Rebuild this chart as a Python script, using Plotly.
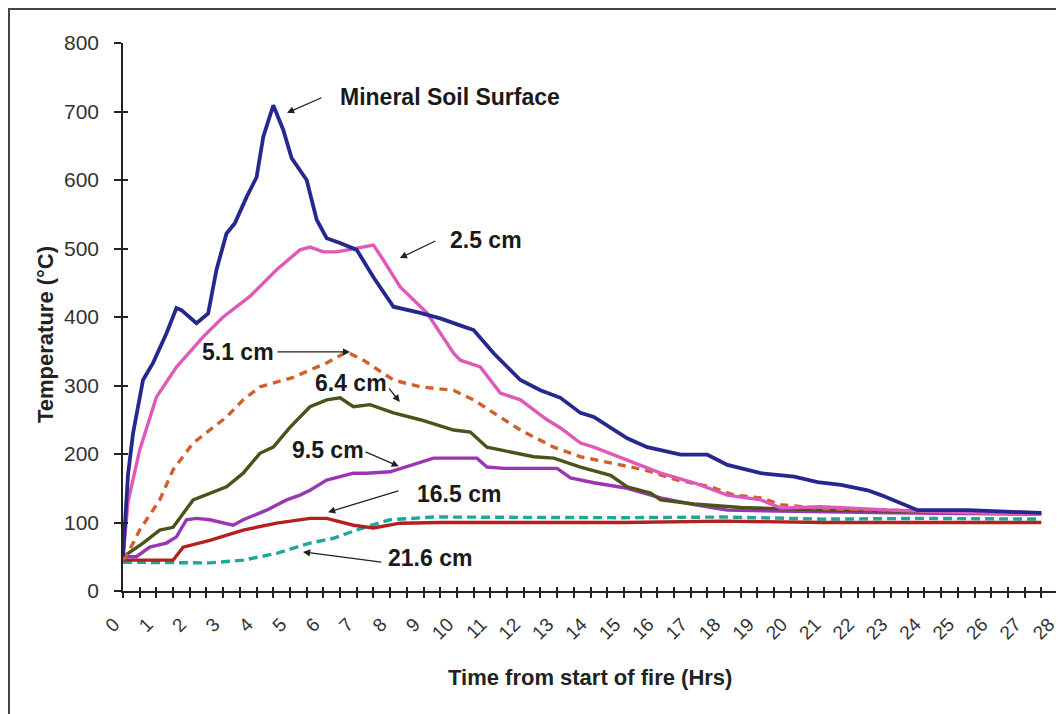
import plotly.graph_objects as go

# ---------------- data ----------------
hours = list(range(29))
hour_labels = [str(h) for h in hours]

t_surface = [0, 0.05, 0.15, 0.3, 0.6, 0.9, 1.3, 1.6, 1.75, 2.2, 2.55, 2.8, 3.1, 3.35, 3.7, 4.0, 4.2,
             4.5, 4.8, 5.05, 5.5, 5.8, 6.1, 6.5, 7.0, 7.5, 8.1, 8.9, 9.5, 10.2, 10.5, 11.1, 11.9,
             12.5, 13.1, 13.7, 14.1, 15.1, 15.7, 16.7, 17.5, 18.1, 19.1, 20.1, 20.8, 21.5, 22.3,
             22.7, 23.8, 25.3, 27.5]
T_surface = [50, 90, 170, 230, 308, 333, 376, 413, 410, 391, 405, 469, 522, 537, 575, 604, 663,
             709, 673, 632, 600, 542, 515, 508, 498, 458, 415, 406, 398, 386, 381, 347, 308,
             293, 282, 260, 254, 223, 210, 199, 199, 184, 172, 167, 159, 155, 147,
             140, 118, 118, 114]

t_25 = [0, 0.15, 0.5, 0.8, 1.0, 1.6, 2.4, 3.0, 3.8, 4.6, 5.3, 5.6, 6.0, 6.4, 7.0, 7.5, 7.8, 8.3,
        9.1, 9.9, 10.1, 10.7, 11.3, 11.9, 12.7, 13.1, 13.7, 14.1, 15.1, 16.1, 17.1, 18.1, 19.1,
        19.7, 20.9, 23.0, 25.0, 27.5]
T_25 = [50, 130, 206, 254, 283, 327, 371, 400, 430, 469, 498, 502, 495, 495, 500, 505, 483, 444,
        406, 347, 337, 327, 289, 279, 250, 238, 216, 210, 191, 172, 158, 140, 133,
        121, 123, 118, 115, 112]

t_51 = [0, 0.2, 0.5, 1.1, 1.5, 2.1, 2.6, 3.1, 3.6, 4.1, 5.1, 6.1, 6.7, 7.2, 8.1, 8.9, 9.9, 10.5,
        11.1, 11.9, 12.9, 13.7, 14.6, 15.6, 16.6, 17.6, 18.3, 19.1, 19.7, 21.0, 23.0, 25.0, 27.5]
T_51 = [45, 60, 89, 133, 177, 216, 235, 254, 279, 298, 312, 333, 349, 337, 308, 298, 293, 279,
        260, 235, 210, 196, 187, 177, 162, 152, 140, 136, 126, 120, 118, 115, 112]

t_64 = [0, 0.6, 1.1, 1.5, 2.1, 2.6, 3.1, 3.6, 4.1, 4.5, 5.0, 5.6, 6.1, 6.5, 6.9, 7.4, 8.1, 8.9,
        9.9, 10.4, 10.9, 11.3, 12.3, 12.9, 13.7, 14.6, 15.1, 15.8, 16.1, 17.1, 18.5, 21.0, 24.0, 27.5]
T_64 = [50, 70, 89, 93, 133, 143, 152, 172, 201, 210, 239, 269, 279, 282, 269, 272, 260, 250,
        235, 232, 210, 206, 196, 194, 181, 169, 152, 143, 133, 127, 122, 118, 116, 114]

t_95 = [0, 0.4, 0.8, 1.3, 1.6, 1.9, 2.2, 2.6, 3.3, 3.6, 4.3, 4.9, 5.3, 5.6, 6.1, 6.9, 7.3, 8.0,
        9.3, 10.6, 10.9, 11.4, 13.0, 13.4, 14.1, 15.1, 16.1, 17.1, 18.1, 20.0, 23.0, 27.5]
T_95 = [50, 50, 64, 70, 79, 104, 106, 104, 96, 104, 118, 133, 140, 147, 162, 172, 172, 174,
        194, 194, 181, 179, 179, 165, 158, 150, 136, 126, 118, 116, 114, 112]

t_165 = [0, 0.8, 1.5, 1.8, 2.6, 3.6, 4.6, 5.6, 6.1, 6.9, 7.5, 8.3, 9.5, 12.0, 15.0, 18.0, 21.0, 24.0, 27.5]
T_165 = [45, 45, 45, 64, 74, 89, 99, 106, 106, 96, 92, 99, 100, 100, 100, 102, 100, 100, 100]

t_216 = [0, 2.6, 3.6, 4.6, 5.6, 6.3, 7.3, 8.0, 9.3, 12.0, 15.0, 18.0, 21.0, 24.0, 27.5]
T_216 = [42, 41, 45, 55, 70, 77, 94, 104, 108, 107, 107, 108, 105, 106, 105]

series_names = ["21.6 cm", "16.5 cm", "9.5 cm", "6.4 cm", "5.1 cm", "2.5 cm", "Mineral Soil Surface"]

# ---------------- layout geometry ----------------
PAGE_OFF = 8                      # default body margin of the html page
PLOT_L, PLOT_R, PLOT_T, PLOT_B = 123, 1058, 43, 591   # plot area in window pixels
W, H = 1064, 714
PW, PH = PLOT_R - PLOT_L, PLOT_B - PLOT_T


def px(x):
    return (x - PLOT_L) / PW


def py(y):
    return (PLOT_B - y) / PH


FONT = "Liberation Sans, Arial, sans-serif"
fig = go.Figure()

styles = [
    (t_216, T_216, "#1FA79C", "9px,5px", 3.4),
    (t_165, T_165, "#B3201F", "solid", 3.4),
    (t_95, T_95, "#9A36B2", "solid", 3.4),
    (t_64, T_64, "#4A5319", "solid", 3.4),
    (t_51, T_51, "#D0602B", "8px,6px", 3.4),
    (t_25, T_25, "#E058B8", "solid", 3.4),
    (t_surface, T_surface, "#27288E", "solid", 3.8),
]
for name, (tx, ty, col, dash, w) in zip(series_names, styles):
    fig.add_trace(go.Scatter(x=tx, y=ty, mode="lines", name=name,
                             line=dict(color=col, width=w, dash=dash),
                             showlegend=False))

# empty traces that activate the overlay axes drawing the inner half of the crossing ticks
fig.add_trace(go.Scatter(x=[None], y=[None], xaxis="x2", yaxis="y", showlegend=False, hoverinfo="skip"))
fig.add_trace(go.Scatter(x=[None], y=[None], xaxis="x", yaxis="y2", showlegend=False, hoverinfo="skip"))

half_ticks = [h * 0.5 for h in range(2 * 28 + 1)]
half_text = [hour_labels[i // 2] if i % 2 == 0 else "" for i in range(len(half_ticks))]

ml = PLOT_L - PAGE_OFF
mt = PLOT_T - PAGE_OFF
fig.update_layout(
    width=W, height=H,
    margin=dict(l=ml, r=W - ml - PW, t=mt, b=H - mt - PH),
    paper_bgcolor="white", plot_bgcolor="white",
    font=dict(family=FONT, color="#222"),
    xaxis=dict(range=[0, 28], tickmode="array", tickvals=half_ticks, ticktext=half_text,
               ticks="outside", ticklen=5, tickwidth=1.5, tickcolor="#222",
               showline=True, linecolor="#222", linewidth=1.5,
               showgrid=False, zeroline=False, tickangle=-45,
               tickfont=dict(family=FONT, size=19, color="#333"),
               ticklabelstandoff=8, ticklabelshift=-9),
    xaxis2=dict(range=[0, 28], overlaying="x", anchor="y", side="bottom",
                tickmode="array", tickvals=half_ticks, ticks="inside", ticklen=4,
                tickwidth=1.5, tickcolor="#222", showticklabels=False,
                showline=False, showgrid=False, zeroline=False),
    yaxis=dict(range=[0, 800], tick0=0, dtick=100,
               ticks="outside", ticklen=7, tickwidth=1.5, tickcolor="#222",
               showline=True, linecolor="#222", linewidth=1.5,
               showgrid=False, zeroline=False,
               tickfont=dict(family=FONT, size=21, color="#333"),
               ticklabelstandoff=11),
    yaxis2=dict(range=[0, 800], overlaying="y", anchor="x", side="left", tick0=0, dtick=100,
                ticks="inside", ticklen=5, tickwidth=1.5, tickcolor="#222",
                showticklabels=False, showline=False, showgrid=False, zeroline=False),
)

# outer frame (top and left edges visible, as in the reference)
fig.add_shape(type="rect", xref="paper", yref="paper", x0=px(9), x1=px(1075), y0=py(730), y1=py(9),
              line=dict(color="#444", width=2), layer="below")

# axis titles
fig.add_annotation(text="<b>Time from start of fire (Hrs)</b>", xref="paper", yref="paper",
                   x=px(590), y=py(677), xanchor="center", yanchor="middle", showarrow=False,
                   font=dict(family=FONT, size=22, color="#222"))
fig.add_annotation(text="<b>Temperature (°C)</b>", xref="paper", yref="paper",
                   x=px(45), y=py(335), xanchor="center", yanchor="middle", showarrow=False,
                   textangle=-90, font=dict(family=FONT, size=22, color="#222"))

# series labels with arrows: (text x, text y, arrow tail x, y, arrow head x, y) in data units
label_specs = [
    ("Mineral Soil Surface", 6.44, 721, 5.99, 721, 4.91, 698),
    ("2.5 cm", 9.73, 512, 9.40, 512, 8.29, 486),
    ("5.1 cm", 2.31, 349, 4.58, 349, 6.80, 349),
    ("6.4 cm", 5.69, 304, 7.93, 298, 8.29, 276),
    ("9.5 cm", 5.00, 206, 7.22, 204, 8.26, 182),
    ("16.5 cm", 8.74, 142, 8.29, 147, 6.14, 115),
    ("21.6 cm", 7.87, 48, 7.78, 42, 5.39, 57),
]
for txt, tx, ty, ax0, ay0, hx, hy in label_specs:
    fig.add_annotation(text="<b>%s</b>" % txt, x=tx, y=ty, xref="x", yref="y",
                       xanchor="left", yanchor="middle", showarrow=False,
                       font=dict(family=FONT, size=23, color="#1a1a1a"))
    fig.add_annotation(text="", x=hx, y=hy, ax=ax0, ay=ay0, xref="x", yref="y",
                       axref="x", ayref="y", showarrow=True, arrowhead=2,
                       arrowsize=1.1, arrowwidth=1.3, arrowcolor="#222", standoff=0)

fig.write_html("out.html")
